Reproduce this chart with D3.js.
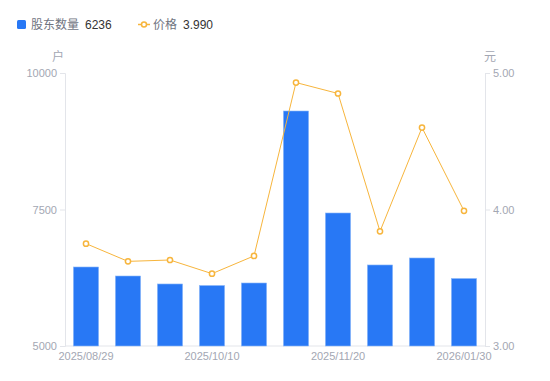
<!DOCTYPE html>
<html>
<head>
<meta charset="utf-8">
<script src="https://cdn.jsdelivr.net/npm/d3@7"></script>
<style>
body { margin: 0; background: #fff; font-family: "Noto Sans CJK SC", "Liberation Sans", sans-serif; }
</style>
</head>
<body>
<div id="chart"></div>
<script>
var dates = ["2025/08/29", "2025/09/10", "2025/09/20", "2025/10/10", "2025/10/20",
	"2025/10/31", "2025/11/20", "2025/12/10", "2025/12/31", "2026/01/30"];
var holders = [6447, 6282, 6136, 6108, 6154, 9304, 7436, 6484, 6612, 6236];
var prices = [3.75, 3.62, 3.63, 3.53, 3.66, 4.93, 4.85, 3.84, 4.60, 3.99];
var leftTicks = [5000, 7500, 10000];
var rightTicks = [3, 4, 5];
var shownDates = ["2025/08/29", "2025/10/10", "2025/11/20", "2026/01/30"];

var width = 550, height = 381;
var margin = {top: 73, right: 65, bottom: 35, left: 65};

var svg = d3.select("#chart").append("svg")
	.attr("width", width)
	.attr("height", height);

var x = d3.scaleBand()
	.domain(dates)
	.range([margin.left, width - margin.right])
	.paddingInner(0.4)
	.paddingOuter(0.2);

var yL = d3.scaleLinear().domain([5000, 10000]).range([height - margin.bottom, margin.top]);
var yR = d3.scaleLinear().domain([3, 5]).range([height - margin.bottom, margin.top]);

var axisColor = "#e3e5ea", tickText = "#a3a7b3";

// left axis
var gl = svg.append("g")
	.attr("transform", "translate(" + margin.left + ",0)")
	.call(d3.axisLeft(yL).tickValues(leftTicks).tickFormat(d3.format("d")).tickSize(5).tickPadding(3));
// right axis
var gr = svg.append("g")
	.attr("transform", "translate(" + (width - margin.right) + ",0)")
	.call(d3.axisRight(yR).tickValues(rightTicks).tickFormat(d3.format(".2f")).tickSize(5).tickPadding(3));
// bottom axis
var gb = svg.append("g")
	.attr("transform", "translate(0," + (height - margin.bottom) + ")")
	.call(d3.axisBottom(x).tickValues(shownDates).tickSize(0).tickPadding(6));

[gl, gr, gb].forEach(function(g) {
	g.selectAll("path.domain").attr("stroke", axisColor);
	g.selectAll(".tick line").attr("stroke", axisColor);
	g.selectAll("text").attr("fill", tickText).style("font-size", "11px")
		.style("font-family", "'Liberation Sans', sans-serif");
});
gb.select("path.domain").attr("d", "M" + margin.left + ",0H" + (width - margin.right));

// unit labels
svg.append("text").attr("x", 58).attr("y", 61).attr("text-anchor", "middle")
	.attr("fill", tickText).style("font-size", "12px").text("户");
svg.append("text").attr("x", 490).attr("y", 61).attr("text-anchor", "middle")
	.attr("fill", tickText).style("font-size", "12px").text("元");

// bars
svg.selectAll("rect.bar")
	.data(holders).enter()
	.append("rect")
	.attr("class", "bar")
	.attr("x", function(d, i) { return x(dates[i]) ; })
	.attr("width", x.bandwidth())
	.attr("y", function(d) { return yL(d); })
	.attr("height", function(d) { return yL(5000) - yL(d); })
	.attr("fill", "#2878f5")
	.attr("stroke", "#8cb8f8")
	.attr("stroke-width", 0.6);

// price line
var line = d3.line()
	.x(function(d, i) { return x(dates[i]) + x.bandwidth() / 2; })
	.y(function(d) { return yR(d); });

svg.append("path")
	.datum(prices)
	.attr("d", line)
	.attr("fill", "none")
	.attr("stroke", "#f7b53c")
	.attr("stroke-width", 1);

svg.selectAll("circle.pt")
	.data(prices).enter()
	.append("circle")
	.attr("class", "pt")
	.attr("cx", function(d, i) { return x(dates[i]) + x.bandwidth() / 2; })
	.attr("cy", function(d) { return yR(d); })
	.attr("r", 2.6)
	.attr("fill", "#fff")
	.attr("stroke", "#f7b53c")
	.attr("stroke-width", 1.5);

// legend
var lg = svg.append("g").style("font-size", "12px");
lg.append("rect").attr("x", 17).attr("y", 20).attr("width", 9).attr("height", 9)
	.attr("rx", 1.5).attr("fill", "#2878f5");
lg.append("text").attr("x", 31).attr("y", 29).attr("fill", "#70747f").text("股东数量");
lg.append("text").attr("x", 85).attr("y", 29).attr("fill", "#333")
	.style("font-family", "'Liberation Sans', sans-serif").text(holders[holders.length - 1]);

lg.append("line").attr("x1", 138).attr("x2", 150).attr("y1", 24.5).attr("y2", 24.5)
	.attr("stroke", "#f7b53c").attr("stroke-width", 1.5);
lg.append("circle").attr("cx", 144).attr("cy", 24.5).attr("r", 2.5)
	.attr("fill", "#fff").attr("stroke", "#f7b53c").attr("stroke-width", 1.5);
lg.append("text").attr("x", 153).attr("y", 29).attr("fill", "#70747f").text("价格");
lg.append("text").attr("x", 183).attr("y", 29).attr("fill", "#333")
	.style("font-family", "'Liberation Sans', sans-serif").text(prices[prices.length - 1].toFixed(3));
</script>
</body>
</html>
